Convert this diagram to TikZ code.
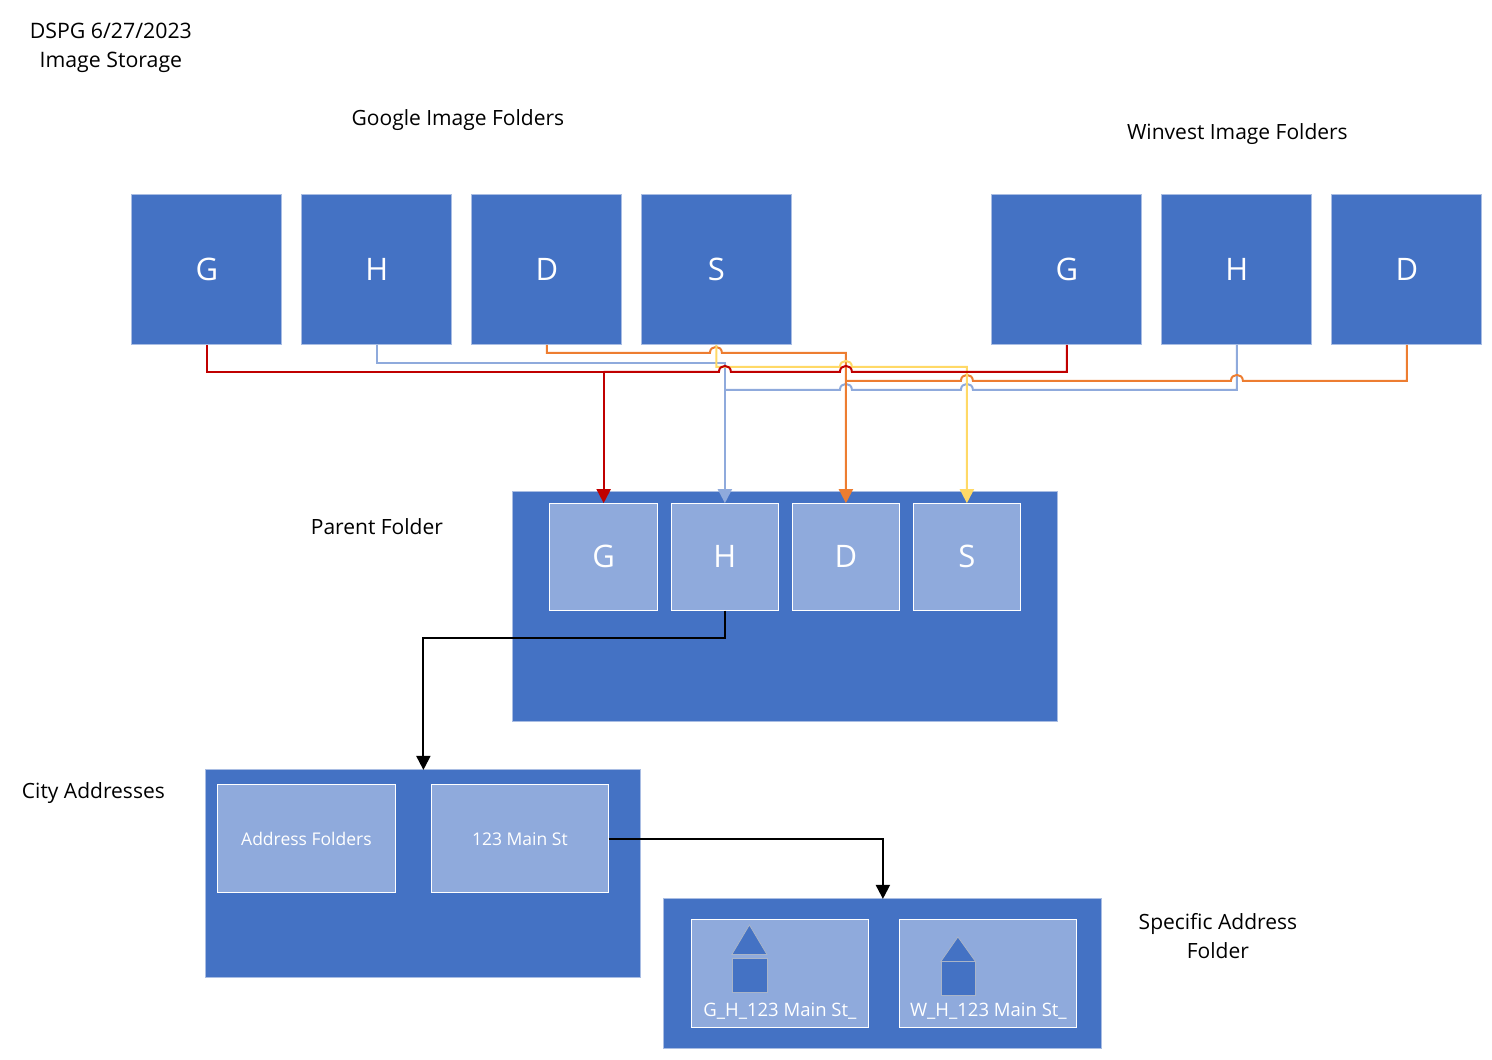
\documentclass[tikz,border=0pt]{standalone}
\usepackage{fontspec}
\setmainfont{Open Sans}
\usetikzlibrary{arrows.meta}
\definecolor{mainblue}{HTML}{4472C4}
\definecolor{lightblue}{HTML}{8FAADC}
\definecolor{edgeblue}{HTML}{A9BDE3}
\definecolor{orangeln}{HTML}{ED7D31}
\definecolor{yellowln}{HTML}{FFD966}
\definecolor{redln}{HTML}{C00000}
\definecolor{houseedge}{HTML}{A9B4C8}
\newcommand{\fsz}[1]{\fontsize{#1}{29}\selectfont}
\tikzset{
  box/.style={rectangle,inner sep=0pt,outer sep=0pt,line width=1pt},
  bigbox/.style={box,fill=mainblue,draw=edgeblue,minimum width=150pt,minimum height=150pt,text=white,font=\fsz{31}},
  panel/.style={box,fill=mainblue,draw=edgeblue},
  subbox/.style={box,fill=lightblue,draw=white,minimum width=107.5pt,minimum height=107.5pt,text=white,font=\fsz{31}},
  addrbox/.style={box,fill=lightblue,draw=white,minimum width=177.5pt,minimum height=108pt,text=white,font=\fsz{17.5}},
  caption/.style={inner sep=0pt,outer sep=0pt,align=center,text=black,font=\fsz{21}},
  filelabel/.style={inner sep=0pt,outer sep=0pt,text=white,font=\fsz{18.5}},
  housepart/.style={fill=mainblue,draw=houseedge,line width=0.8pt,line join=miter},
  conn/.style={line width=2pt,rounded corners=0pt},
  arrowed/.style={conn,-{Triangle[length=14pt,width=14pt]}},
  hop/.style={to path={.. controls ([yshift=8pt]\tikztostart) and ([yshift=8pt]\tikztotarget) .. (\tikztotarget)}}
}
\begin{document}
\begin{tikzpicture}[x=1pt,y=-1pt]
\useasboundingbox (0.1,0.1) rectangle (1492.1,1060.1);
% captions
\node[caption,font=\fsz{21.3}] (title) at (111,47.5) {DSPG 6/27/2023\\Image Storage};
\node[caption] (googlecap) at (458,120) {Google Image Folders};
\node[caption] (winvestcap) at (1237.5,134) {Winvest Image Folders};
\node[caption] (parentcap) at (377,527) {Parent Folder};
\node[caption] (citycap) at (93.5,793) {City Addresses};
\node[caption] (speccap) at (1218,936) {Specific Address\\Folder};
% source folders
\node[bigbox] (gG) at (207,270) {G};
\node[bigbox] (gH) at (377,270) {H};
\node[bigbox] (gD) at (547,270) {D};
\node[bigbox] (gS) at (716.5,270) {S};
\node[bigbox] (wG) at (1067,270) {G};
\node[bigbox] (wH) at (1237,270) {H};
\node[bigbox] (wD) at (1407,270) {D};
% parent
\node[panel,minimum width=545pt,minimum height=230pt] (parent) at (785.5,607) {};
\node[subbox] (pG) at (603.75,557) {G};
\node[subbox] (pH) at (725,557) {H};
\node[subbox] (pD) at (846,557) {D};
\node[subbox] (pS) at (967,557) {S};
% city
\node[panel,minimum width=435pt,minimum height=208pt] (city) at (423.5,874) {};
\node[addrbox] (addr) at (306.5,839) {Address Folders};
\node[addrbox] (main) at (520,839) {123 Main St};
% specific
\node[panel,minimum width=438pt,minimum height=150pt] (spec) at (883,974) {};
\node[box,fill=lightblue,draw=white,minimum width=177.5pt,minimum height=108pt] (fileG) at (780,974) {};
\node[box,fill=lightblue,draw=white,minimum width=177.5pt,minimum height=108pt] (fileW) at (988,974) {};
\node[filelabel] (fileGt) at (780,1011) {G\_H\_123 Main St\_};
\node[filelabel] (fileWt) at (988.5,1011) {W\_H\_123 Main St\_};
% houses
\draw[housepart] (749.5,925) -- (767,954.5) -- (732,954.5) -- cycle;
\draw[housepart] (732,958) rectangle (767,992);
\draw[housepart] (958,937) -- (975.5,961.5) -- (941,961.5) -- cycle;
\draw[housepart] (941,961.5) rectangle (975.5,995.5);
% connectors
\draw[conn,draw=lightblue] (wH.south) -- (1237,390) -- (973,390) to[hop] (961,390) -- (852,390) to[hop] (840,390) -- (725,390);
\draw[arrowed,draw=lightblue] (gH.south) -- (377,363) -- (725,363) -- (pH.north);
\draw[conn,draw=orangeln] (wD.south) -- (1407,381) -- (1243,381) to[hop] (1231,381) -- (973,381) to[hop] (961,381) -- (846,381);
\draw[arrowed,draw=orangeln] (gD.south) -- (547,353) -- (710,353) to[hop] (722,353) -- (846,353) -- (pD.north);
\draw[arrowed,draw=yellowln] (gS.south) -- (716.5,367) -- (840,367) to[hop] (852,367) -- (967,367) -- (pS.north);
\draw[conn,draw=redln] (wG.south) -- (1067,372) -- (852,372) to[hop] (840,372) -- (731,372) to[hop] (719,372) -- (603.75,372);
\draw[arrowed,draw=redln] (gG.south) -- (207,372) -- (603.75,372) -- (pG.north);
\draw[arrowed,draw=black] (pH.south) -- (725,638) -- (423.5,638) -- (city.north);
\draw[arrowed,draw=black] (main.east) -- (883,839) -- (spec.north);
\end{tikzpicture}
\end{document}
